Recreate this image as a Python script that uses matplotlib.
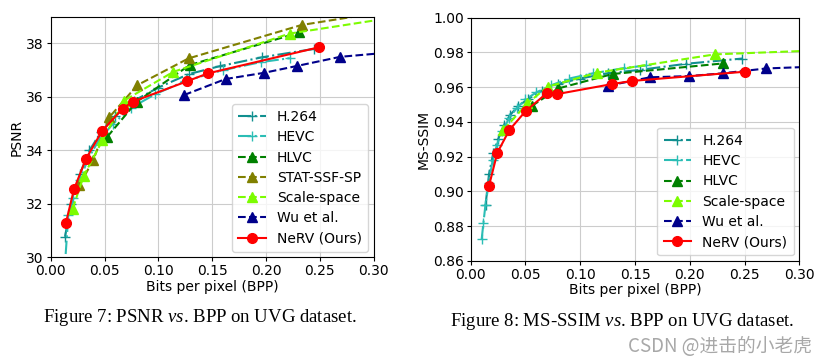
#!/usr/bin/env python3
"""
复现 NeRV 论文中 UVG 数据集上的 PSNR / MS-SSIM vs. BPP 曲线（图 7、图 8）。
"""
import numpy as np
import matplotlib
matplotlib.use('Agg')
import matplotlib.pyplot as plt

plt.rcParams['mathtext.fontset'] = 'custom'
plt.rcParams['mathtext.rm'] = 'Liberation Serif'
plt.rcParams['mathtext.it'] = 'Liberation Serif:italic'

# ---------------- 图 7: PSNR ----------------
psnr_h264_bpp = [0.0133, 0.019, 0.027, 0.036, 0.047, 0.060, 0.077, 0.100, 0.128, 0.157, 0.196, 0.245]
psnr_h264 = [30.77, 32.0, 33.1, 34.0, 34.7, 35.3, 35.85, 36.35, 36.85, 37.15, 37.48, 37.80]
psnr_hevc_bpp = [0.0125, 0.0164, 0.021, 0.027, 0.035, 0.045, 0.058, 0.075, 0.097, 0.125, 0.160, 0.195, 0.222]
psnr_hevc = [29.3, 31.58, 32.2, 32.9, 33.7, 34.4, 35.0, 35.6, 36.1, 36.6, 37.0, 37.3, 37.45]
psnr_hlvc_bpp = [0.0526, 0.0799, 0.129, 0.231]
psnr_hlvc = [34.51, 35.82, 37.19, 38.41]
psnr_stat_bpp = [0.0266, 0.0396, 0.0542, 0.0805, 0.128, 0.233, 0.32]
psnr_stat = [32.70, 33.64, 35.23, 36.44, 37.44, 38.69, 39.25]
psnr_scale_bpp = [0.0204, 0.0306, 0.048, 0.068, 0.114, 0.222, 0.32]
psnr_scale = [31.82, 33.04, 34.37, 35.86, 36.94, 38.37, 38.98]
psnr_wu_bpp = [0.1238, 0.1625, 0.198, 0.229, 0.269, 0.32]
psnr_wu = [36.07, 36.67, 36.90, 37.16, 37.50, 37.68]
psnr_nerv_bpp = [0.0142, 0.0216, 0.0327, 0.0475, 0.0667, 0.0762, 0.127, 0.146, 0.2495]
psnr_nerv = [31.30, 32.54, 33.68, 34.71, 35.56, 35.82, 36.59, 36.88, 37.86]

# ---------------- 图 8: MS-SSIM ----------------
ssim_h264_bpp = [0.0135, 0.0167, 0.0205, 0.025, 0.030, 0.036, 0.043, 0.052, 0.065, 0.080, 0.100, 0.125,
                 0.155, 0.197, 0.248]
ssim_h264 = [0.892, 0.910, 0.922, 0.930, 0.938, 0.944, 0.949, 0.953, 0.958, 0.962, 0.965, 0.968,
             0.970, 0.9735, 0.9765]
ssim_hevc_bpp = [0.0100, 0.0116, 0.0134, 0.0165, 0.020, 0.024, 0.029, 0.035, 0.042, 0.050, 0.060, 0.073,
                 0.090, 0.112, 0.140, 0.160]
ssim_hevc = [0.8725, 0.882, 0.892, 0.905, 0.918, 0.927, 0.935, 0.942, 0.948, 0.953, 0.957, 0.961,
             0.965, 0.968, 0.971, 0.9725]
ssim_hlvc_bpp = [0.0557, 0.080, 0.1296, 0.2306]
ssim_hlvc = [0.9492, 0.9593, 0.9676, 0.9737]
ssim_scale_bpp = [0.0298, 0.0517, 0.0703, 0.1156, 0.223, 0.33]
ssim_scale = [0.9354, 0.9507, 0.9603, 0.9684, 0.9789, 0.9815]
ssim_wu_bpp = [0.1256, 0.1637, 0.1996, 0.230, 0.270, 0.33]
ssim_wu = [0.9609, 0.9657, 0.9664, 0.968, 0.9708, 0.9722]
ssim_nerv_bpp = [0.0167, 0.0243, 0.0353, 0.0502, 0.0694, 0.0785, 0.129, 0.147, 0.250]
ssim_nerv = [0.9033, 0.9223, 0.9354, 0.9463, 0.9565, 0.956, 0.9618, 0.9636, 0.9689]

C_H264 = '#108f8f'
C_HEVC = '#2bbdb5'
C_HLVC = 'green'
C_STAT = 'olive'
C_SCALE = 'lawngreen'
C_WU = 'darkblue'
C_NERV = 'red'

FS = 10


def style_axes(ax, ylabel):
    ax.grid(True, color='#cccccc', linewidth=0.8)
    ax.set_axisbelow(True)
    ax.set_xlim(0, 0.30)
    ax.set_xticks(np.arange(0, 0.31, 0.05))
    ax.set_xticklabels([f"{v:.2f}" for v in np.arange(0, 0.31, 0.05)])
    ax.set_xlabel('Bits per pixel (BPP)', fontsize=FS, labelpad=1)
    ax.set_ylabel(ylabel, fontsize=FS, labelpad=2)
    ax.tick_params(labelsize=FS, length=3, pad=2)
    ax.legend(loc='lower right', fontsize=FS, handlelength=2.0, borderpad=0.45,
              labelspacing=0.45, handletextpad=0.8, borderaxespad=0.4)


fig = plt.figure(figsize=(8.27, 3.64), dpi=100)
ax1 = fig.add_axes([0.0613, 0.2931, 0.3906, 0.6610])
ax2 = fig.add_axes([0.5692, 0.2830, 0.3973, 0.6684])

kw = dict(linewidth=1.5, markersize=6.5)
ax1.plot(psnr_h264_bpp, psnr_h264, '-.+', color=C_H264, label='H.264', **kw)
ax1.plot(psnr_hevc_bpp, psnr_hevc, '-.+', color=C_HEVC, label='HEVC', **kw)
ax1.plot(psnr_hlvc_bpp, psnr_hlvc, '--^', color=C_HLVC, label='HLVC', **kw)
ax1.plot(psnr_stat_bpp, psnr_stat, '--^', color=C_STAT, label='STAT-SSF-SP', **kw)
ax1.plot(psnr_scale_bpp, psnr_scale, '--^', color=C_SCALE, label='Scale-space', **kw)
ax1.plot(psnr_wu_bpp, psnr_wu, '--^', color=C_WU, label='Wu et al.', **kw)
ax1.plot(psnr_nerv_bpp, psnr_nerv, '-o', color=C_NERV, label='NeRV (Ours)', linewidth=1.5, markersize=7)
ax1.set_ylim(30, 39)
ax1.set_yticks([30, 32, 34, 36, 38])
style_axes(ax1, 'PSNR')

ax2.plot(ssim_h264_bpp, ssim_h264, '-.+', color=C_H264, label='H.264', **kw)
ax2.plot(ssim_hevc_bpp, ssim_hevc, '-.+', color=C_HEVC, label='HEVC', **kw)
ax2.plot(ssim_hlvc_bpp, ssim_hlvc, '--^', color=C_HLVC, label='HLVC', **kw)
ax2.plot(ssim_scale_bpp, ssim_scale, '--^', color=C_SCALE, label='Scale-space', **kw)
ax2.plot(ssim_wu_bpp, ssim_wu, '--^', color=C_WU, label='Wu et al.', **kw)
ax2.plot(ssim_nerv_bpp, ssim_nerv, '-o', color=C_NERV, label='NeRV (Ours)', linewidth=1.5, markersize=7)
ax2.set_ylim(0.86, 1.00)
ax2.set_yticks(np.arange(0.86, 1.001, 0.02))
ax2.set_yticklabels([f"{v:.2f}" for v in np.arange(0.86, 1.001, 0.02)])
style_axes(ax2, 'MS-SSIM')

# 图注
fig.text(200 / 827, 1 - 317 / 364, r'Figure 7: PSNR $\mathit{vs}$. BPP on UVG dataset.',
         family='Liberation Serif', fontsize=13.5, ha='center', va='center')
fig.text(622 / 827, 1 - 322 / 364, r'Figure 8: MS-SSIM $\mathit{vs}$. BPP on UVG dataset.',
         family='Liberation Serif', fontsize=13.5, ha='center', va='center')
fig.text(812 / 827, 1 - 346 / 364, 'CSDN @进击的小老虎', family=['Noto Sans CJK SC', 'DejaVu Sans'],
         fontsize=13.5, color='#a8a8a8', ha='right', va='center')

fig.savefig('out.png', dpi=100)
